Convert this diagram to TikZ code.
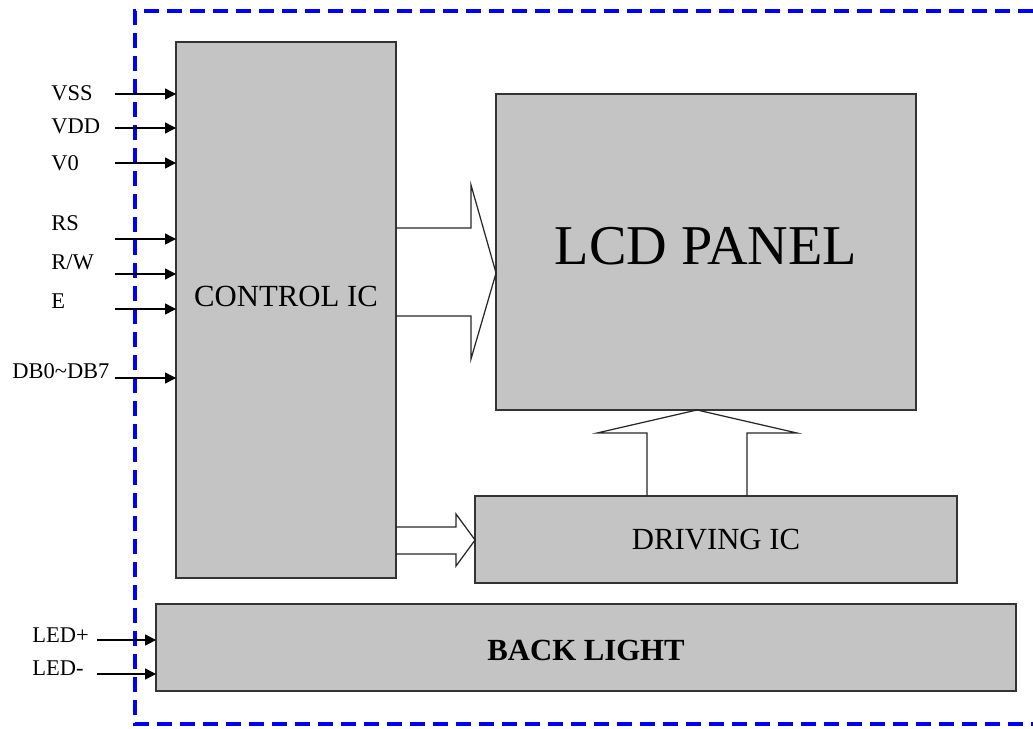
\documentclass[tikz,border=0pt]{standalone}
\usepackage{fontspec}
\setmainfont{Liberation Serif}
\usetikzlibrary{arrows.meta}
\definecolor{boxgray}{RGB}{196,196,196}
\begin{document}
\begin{tikzpicture}[x=0.02cm,y=-0.02cm,
    block/.style={draw=black!80,line width=0.7pt,fill=boxgray,inner sep=0pt,outer sep=0pt,
      font=\fontsize{17.5}{20}\selectfont},
    pinlbl/.style={anchor=base west,inner sep=0pt,font=\fontsize{12.8}{14}\selectfont},
    sig/.style={black,line width=0.8pt,-{Triangle[length=0.22cm,width=0.22cm]}},
    fat/.style={draw=black!85,line width=0.7pt,line join=miter},
    frame/.style={blue,line width=2.2pt,dash pattern=on 0.3cm off 0.16cm}]
  \useasboundingbox (0,0) rectangle (1033,728);
  \draw[frame] (1033,11) -- (135,11) -- (135,724) -- (1033,724);
  % blocks
  \node[block,minimum width=4.4cm,minimum height=10.72cm] (ctrl) at (286,310) {};
  \node[font=\fontsize{17.5}{20}\selectfont] (ctrltxt) at ([yshift=0.28cm]ctrl.center) {CONTROL IC};
  \node[block,minimum width=8.4cm,minimum height=6.32cm] (lcd) at (706,252) {};
  \node[font=\fontsize{32}{36}\selectfont] (lcdtxt) at ([yshift=0.12cm]lcd.center) {LCD PANEL};
  \node[block,minimum width=9.64cm,minimum height=1.74cm] (drv) at (716,539.5) {DRIVING IC};
  \node[block,minimum width=17.2cm,minimum height=1.74cm] (bl) at (586,647.5) {};
  \node[font=\fontsize{17.5}{20}\selectfont\bfseries] (bltxt) at ([yshift=-0.05cm]bl.center) {BACK LIGHT};
  % pins
  \foreach \name/\txt/\lx/\ly/\ay in {vss/VSS/51/100/94, vdd/VDD/51/133/128, vo/V0/51/170/163,
      rs/RS/51/230/239, rw/{R/W}/51/269/274, en/E/51/308/309, db/DB0\textasciitilde DB7/12/378/378}{
    \node[pinlbl] (\name) at (\lx,\ly) {\txt};
    \coordinate (\name-in) at (115,\ay);
    \draw[sig] (\name-in) -- (\name-in -| ctrl.west);
  }
  \foreach \name/\txt/\ly/\ay in {ledp/LED+/642/640, ledm/LED-/675/674}{
    \node[pinlbl] (\name) at (32,\ly) {\txt};
    \coordinate (\name-in) at (97,\ay);
    \draw[sig] (\name-in) -- (\name-in -| bl.west);
  }
  % wide arrows
  \draw[fat] (ctrl.east |- 0,228) -- (471,228) -- (471,185) -- (lcd.west |- 0,273)
    -- (471,359) -- (471,316) -- (ctrl.east |- 0,316);
  \draw[fat] (ctrl.east |- 0,527) -- (456,527) -- (456,514) -- (drv.west |- 0,540)
    -- (456,566) -- (456,554) -- (ctrl.east |- 0,554);
  \draw[fat] (drv.north -| 647,0) -- (647,433) -- (597,433) -- (lcd.south -| 697,0)
    -- (797,433) -- (747,433) -- (drv.north -| 747,0);
\end{tikzpicture}
\end{document}
